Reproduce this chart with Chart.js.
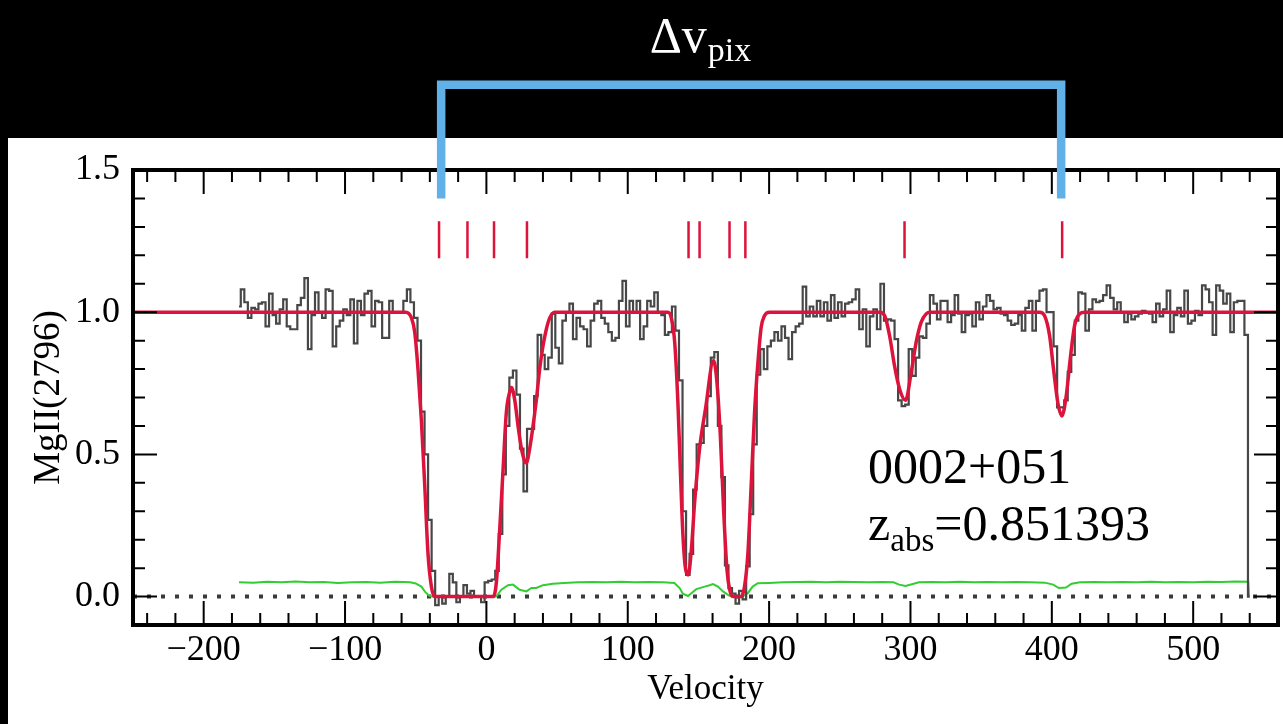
<!DOCTYPE html>
<html>
<head>
<meta charset="utf-8">
<title>MgII 2796 velocity plot</title>
<script src="https://cdn.jsdelivr.net/npm/chart.js@4.4.1/dist/chart.umd.min.js"></script>
<style>
  html, body { margin: 0; padding: 0; background: #000; overflow: hidden; }
  #wrap { width: 1283px; height: 724px; }
</style>
</head>
<body>
<div id="wrap"><canvas id="specChart" width="1283" height="724"></canvas></div>
<script>
// Spectrum pixel grid (km/s)
const velStart = -175;
const velStep = 2.5;

// Normalised flux, one value per pixel
const fluxValues = [
  1.02, 1.08, 1.035, 0.98, 1.015, 1.01, 1.03, 1.035, 0.95, 1.065,
  0.99, 0.96, 1.01, 1.045, 0.95, 0.94, 0.94, 1.025, 1.05, 1.12,
  0.87, 0.99, 1.07, 1.0, 0.98, 1.08, 1.075, 0.88, 0.95, 0.97,
  1.01, 0.99, 1.045, 0.89, 1.04, 0.99, 1.065, 1.075, 0.95, 1.04,
  1.035, 0.91, 0.91, 1.04, 1.0, 1.0, 1.0, 1.04, 1.08, 1.035,
  0.98, 0.90, 0.65, 0.50, 0.27, 0.09, -0.03, 0.0, -0.025, 0.0,
  0.08, 0.05, -0.02, 0.0, 0.04, 0.01, 0.02, 0.0, 0.0, -0.02,
  0.05, 0.055, 0.06, 0.09, 0.22, 0.43, 0.60, 0.77, 0.795, 0.71,
  0.52, 0.37, 0.59, 0.59, 0.705, 0.92, 0.85, 0.80, 0.84, 0.995,
  0.875, 0.82, 0.97, 1.0, 1.03, 0.905, 0.98, 0.95, 0.94, 0.88,
  0.97, 1.03, 1.04, 0.98, 0.96, 0.93, 0.90, 0.91, 1.04, 1.11,
  0.95, 1.04, 1.0, 1.04, 0.905, 0.95, 1.04, 1.02, 1.07, 1.0,
  0.99, 0.92, 0.93, 1.02, 0.935, 0.76, 0.30, 0.076, 0.15, 0.376,
  0.535, 0.54, 0.60, 0.705, 0.84, 0.86, 0.60, 0.42, 0.11, 0.03,
  0.01, -0.025, 0.02, -0.01, 0.106, 0.29, 0.535, 0.78, 0.87, 0.80,
  0.88, 0.90, 0.93, 0.90, 0.95, 0.91, 0.835, 0.93, 0.95, 0.96,
  1.09, 0.985, 1.02, 0.985, 1.04, 0.985, 1.035, 0.97, 1.06, 0.98,
  1.035, 0.985, 1.03, 1.035, 1.045, 1.08, 0.94, 1.01, 0.88, 0.985,
  1.01, 0.94, 1.10, 0.97, 0.975, 0.97, 0.905, 0.69, 0.67, 0.675,
  0.87, 0.776, 0.84, 0.915, 0.91, 0.96, 1.06, 1.03, 0.975, 1.04,
  1.04, 0.965, 0.99, 1.06, 0.995, 0.93, 0.99, 0.995, 0.95, 1.035,
  0.975, 1.02, 1.06, 1.04, 1.01, 1.015, 0.995, 0.99, 0.97, 0.955,
  0.96, 0.99, 0.935, 1.015, 1.04, 0.935, 1.04, 1.076, 1.08, 1.0,
  1.0, 0.88, 0.665, 0.665, 0.69, 0.79, 0.85, 0.97, 1.07, 1.065,
  0.935, 1.01, 1.045, 1.035, 1.04, 1.06, 1.094, 1.05, 1.01, 1.035,
  1.0, 0.965, 0.995, 0.975, 0.985, 0.995, 1.005, 1.0, 0.995, 0.965,
  1.03, 0.985, 1.01, 1.076, 0.93, 0.99, 1.015, 0.985, 1.076, 0.96,
  0.97, 1.005, 0.99, 1.094, 1.08, 1.035, 0.92, 1.094, 1.076, 1.03,
  1.065, 0.93, 1.035, 1.04, 1.04, 0.92, 0.0
];

// Fitted model (red)
const modelVel = [
  -250, -57, -53, -50.7, -48.4, -46, -43.6, -41.3, -38.9, -36.6,
  4.7, 7, 9.4, 11.8, 14.1, 16.5, 17.7, 20.1, 22.4, 24.8,
  27.2, 28.3, 30.6, 33, 35.3, 37.7, 40, 42.4, 44.8, 48.3,
  128.4, 130.8, 133.2, 135.5, 137.2, 139.1, 141, 142.8, 145, 147.3,
  150.8, 155, 160.7, 163.1, 165.5, 167.8, 170.2, 172.1, 174.4,
  180.3, 182.6, 185, 187.4, 189.7, 192.1, 194.4, 196.8, 200.3,
  278.2, 281.7, 285.2, 288.7, 292.3, 296.5, 300.5, 304, 307.6, 311.1, 314,
  391.3, 394.8, 398.4, 401.2, 404.3, 407.1, 410.2, 413, 416.1, 419.6, 423.2, 560
];
const modelFlux = [
  1, 1, 0.98, 0.93, 0.80, 0.62, 0.39, 0.15, 0.035, 0,
  0, 0.047, 0.235, 0.447, 0.647, 0.72, 0.735, 0.69, 0.6, 0.52,
  0.475, 0.47, 0.52, 0.6, 0.69, 0.8, 0.88, 0.94, 0.98, 1,
  1, 0.98, 0.895, 0.68, 0.447, 0.21, 0.094, 0.076, 0.165, 0.33,
  0.52, 0.66, 0.83, 0.753, 0.565, 0.306, 0.094, 0.024, 0,
  0, 0.035, 0.153, 0.4, 0.647, 0.824, 0.947, 0.988, 1,
  1, 0.988, 0.918, 0.812, 0.73, 0.69, 0.788, 0.894, 0.965, 0.994, 1,
  1, 0.988, 0.918, 0.8, 0.68, 0.635, 0.706, 0.835, 0.953, 0.994, 1, 1
];

// Error spectrum (green)
const errorVel = [
  -175, -165, -155, -145, -135, -125, -115, -105, -95, -85,
  -75, -65, -58, -54, -50, -46, -43.6, -41, -39, 7,
  10.6, 15.3, 18.8, 23.5, 28.3, 31.8, 35.3, 40, 47, 55,
  65, 75, 85, 95, 105, 115, 125, 133, 136.7, 139,
  142.6, 145, 148.5, 154.4, 157.9, 160.3, 163.8, 167.4, 170.9, 173.3,
  181.3, 184.9, 188.4, 192, 200, 210, 220, 230, 240, 250,
  260, 270, 280, 288, 292, 296.5, 301, 306, 315, 325,
  335, 345, 355, 365, 375, 385, 395, 401, 405, 410,
  414, 420, 430, 440, 450, 460, 470, 480, 490, 500,
  510, 520, 530, 539, 539.5
];
const errorFlux = [
  0.05, 0.049, 0.052, 0.05, 0.053, 0.05, 0.051, 0.048, 0.05, 0.051,
  0.049, 0.052, 0.051, 0.05, 0.046, 0.035, 0.018, 0.005, 0, 0,
  0.024, 0.04, 0.042, 0.024, 0.018, 0.03, 0.03, 0.04, 0.045, 0.048,
  0.05, 0.051, 0.05, 0.052, 0.05, 0.051, 0.05, 0.048, 0.03, 0.01,
  0.002, 0.012, 0.026, 0.035, 0.04, 0.044, 0.035, 0.018, 0.006, 0,
  0, 0.012, 0.035, 0.047, 0.048, 0.05, 0.051, 0.052, 0.05, 0.052,
  0.051, 0.05, 0.051, 0.05, 0.042, 0.037, 0.043, 0.05, 0.051, 0.05,
  0.052, 0.05, 0.051, 0.05, 0.051, 0.05, 0.049, 0.042, 0.03, 0.032,
  0.045, 0.05, 0.051, 0.05, 0.051, 0.05, 0.052, 0.05, 0.051, 0.05,
  0.052, 0.051, 0.053, 0.052, 0
];

// Component centres (red tick marks) and the pixel-span bracket
const componentVels = [-33.5, -13.4, 5.4, 28.7, 143, 150.8, 172, 183.2, 295.8, 407.3];
const componentTickY = [1.19, 1.32];
const bracketVels = [-32, 406.6];
const bracketY = [1.40, 1.80];

// Axes
const xTickLabels = [-200, -100, 0, 100, 200, 300, 400, 500];
const yTickLabels = [0.0, 0.5, 1.0, 1.5];
const xRange = [-250, 560];
const yRange = [-0.1, 1.5];

const serif = '"Liberation Serif", "DejaVu Serif", serif';

// Build point lists for the library
const fluxPoints = fluxValues.map((f, i) => ({ x: velStart + i * velStep, y: f }));
const modelPoints = modelVel.map((v, i) => ({ x: v, y: modelFlux[i] }));
const errorPoints = errorVel.map((v, i) => ({ x: v, y: errorFlux[i] }));
const zeroPoints = [{ x: xRange[0], y: 0 }, { x: xRange[1], y: 0 }];

const tickPoints = [];
componentVels.forEach(v => {
    tickPoints.push({ x: v, y: componentTickY[0] });
    tickPoints.push({ x: v, y: componentTickY[1] });
    tickPoints.push({ x: v, y: null });
});

const bracketPoints = [
    { x: bracketVels[0], y: bracketY[0] },
    { x: bracketVels[0], y: bracketY[1] },
    { x: bracketVels[1], y: bracketY[1] },
    { x: bracketVels[1], y: bracketY[0] }
];

// Background, frame with inward ticks, and text annotations
const framePlugin = {
    id: 'frame',
    beforeDraw(chart) {
        const ctx = chart.ctx;
        ctx.save();
        ctx.fillStyle = '#000';
        ctx.fillRect(0, 0, chart.width, chart.height);
        ctx.fillStyle = '#fff';
        ctx.fillRect(8, 138, chart.width - 8, chart.height - 138);
        ctx.restore();
    },
    afterDatasetDraw(chart, args) {
        // draw frame right after the model line so markers sit on top
        if (args.index !== 2) return;
        const { ctx, chartArea: a, scales: { x, y } } = chart;
        ctx.save();
        ctx.strokeStyle = '#000';
        ctx.lineWidth = 2;
        ctx.beginPath();
        for (let v = -240; v <= 540; v += 20) {
            const px = x.getPixelForValue(v);
            const len = v % 100 === 0 ? 24 : 12;
            ctx.moveTo(px, a.top); ctx.lineTo(px, a.top + len);
            ctx.moveTo(px, a.bottom); ctx.lineTo(px, a.bottom - len);
        }
        for (let k = 0; k <= 14; k++) {
            const py = y.getPixelForValue(k / 10);
            const len = k % 5 === 0 ? 24 : 12;
            ctx.moveTo(a.left, py); ctx.lineTo(a.left + len, py);
            ctx.moveTo(a.right, py); ctx.lineTo(a.right - len, py);
        }
        ctx.stroke();
        ctx.lineWidth = 4;
        ctx.strokeRect(a.left, a.top, a.right - a.left, a.bottom - a.top);
        ctx.restore();
    },
    afterDraw(chart) {
        const { ctx, scales: { x, y } } = chart;
        ctx.save();
        ctx.textBaseline = 'alphabetic';
        ctx.textAlign = 'left';

        // Δv_pix over the bracket
        let px = x.getPixelForValue(115.5);
        let py = y.getPixelForValue(1.915);
        ctx.fillStyle = '#fff';
        ctx.font = '50px ' + serif;
        ctx.fillText('\u0394v', px, py);
        px += ctx.measureText('\u0394v').width + 1;
        ctx.font = '34px ' + serif;
        ctx.fillText('pix', px, py + 9);

        // system label
        ctx.fillStyle = '#000';
        px = x.getPixelForValue(270);
        ctx.font = '50px ' + serif;
        ctx.fillText('0002+051', px, y.getPixelForValue(0.40));
        py = y.getPixelForValue(0.20);
        ctx.fillText('z', px, py);
        px += ctx.measureText('z').width;
        ctx.font = '33px ' + serif;
        ctx.fillText('abs', px, py + 11);
        px += ctx.measureText('abs').width;
        ctx.font = '50px ' + serif;
        ctx.fillText('=0.851393', px, py);
        ctx.restore();
    }
};

const ctx = document.getElementById('specChart').getContext('2d');
new Chart(ctx, {
    type: 'line',
    data: {
        datasets: [
            {
                label: 'bracket',
                data: bracketPoints,
                borderColor: '#62b0e8',
                borderWidth: 8.5,
                borderJoinStyle: 'miter',
                borderCapStyle: 'butt',
                clip: false
            },
            {
                label: 'components',
                data: tickPoints,
                borderColor: '#dc143c',
                borderWidth: 2.5,
                spanGaps: false
            },
            {
                label: 'model',
                data: modelPoints,
                borderColor: '#dc143c',
                borderWidth: 3.5,
                cubicInterpolationMode: 'monotone'
            },
            {
                label: 'flux',
                data: fluxPoints,
                borderColor: '#474747',
                borderWidth: 2.2,
                stepped: 'middle'
            },
            {
                label: 'error',
                data: errorPoints,
                borderColor: '#32cd32',
                borderWidth: 2
            },
            {
                label: 'zero',
                data: zeroPoints,
                borderColor: '#3a3a3a',
                borderWidth: 4,
                borderDash: [4, 10]
            }
        ]
    },
    options: {
        responsive: false,
        animation: false,
        devicePixelRatio: 1,
        layout: { padding: { top: 170, right: 5, left: 0, bottom: 0 } },
        elements: { point: { radius: 0, hoverRadius: 0 }, line: { tension: 0, fill: false } },
        plugins: { legend: { display: false }, tooltip: { enabled: false } },
        events: [],
        scales: {
            x: {
                type: 'linear',
                min: xRange[0],
                max: xRange[1],
                grid: { display: false, drawTicks: false },
                border: { display: false },
                afterBuildTicks: scale => { scale.ticks = xTickLabels.map(v => ({ value: v })); },
                afterFit: scale => { scale.height = 99; },
                ticks: {
                    autoSkip: false,
                    maxRotation: 0,
                    padding: 4,
                    color: '#000',
                    font: { family: serif, size: 36 },
                    callback: v => (v < 0 ? '\u2212' + Math.abs(v) : String(v))
                },
                title: {
                    display: true,
                    text: 'Velocity',
                    color: '#000',
                    font: { family: serif, size: 35 },
                    padding: { top: 0, bottom: 13 }
                }
            },
            y: {
                type: 'linear',
                min: yRange[0],
                max: yRange[1],
                grid: { display: false, drawTicks: false },
                border: { display: false },
                afterBuildTicks: scale => { scale.ticks = yTickLabels.map(v => ({ value: v })); },
                afterFit: scale => { scale.width = 133; },
                ticks: {
                    padding: 13,
                    color: '#000',
                    font: { family: serif, size: 36 },
                    callback: v => Number(v).toFixed(1)
                },
                title: {
                    display: true,
                    text: 'MgII(2796)',
                    color: '#000',
                    font: { family: serif, size: 37 },
                    padding: { top: 27, bottom: 0 }
                }
            }
        }
    },
    plugins: [framePlugin]
});
</script>
</body>
</html>
